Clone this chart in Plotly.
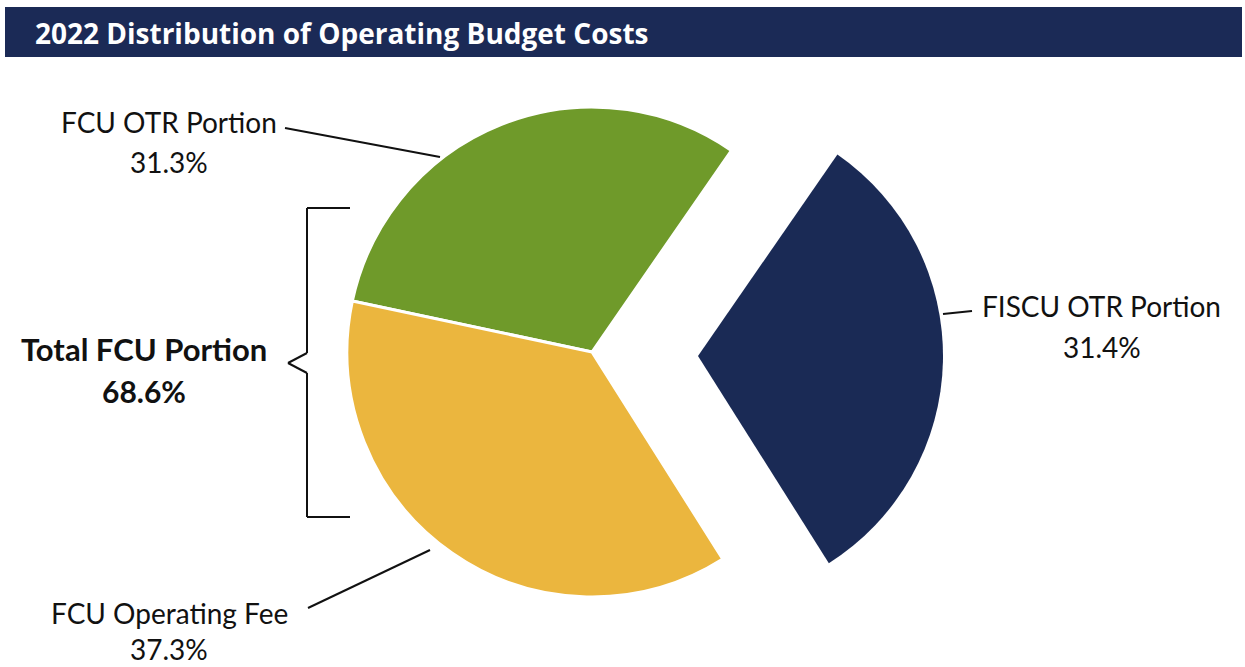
import plotly.graph_objects as go

# ---- data ----
categories = ["FCU OTR Portion", "FISCU OTR Portion", "FCU Operating Fee"]
shares = [31.3, 31.4, 37.3]
pct_labels = ["31.3%", "31.4%", "37.3%"]
total_label = "Total FCU Portion"
total_pct = "68.6%"
title_text = "2022 Distribution of Operating Budget Costs"

# ---- style ----
W, H = 1245, 667
GREEN = "#6f9a2a"
NAVY = "#1a2a55"
YELLOW = "#ebb63e"
BAR = "#1b2a56"
FONT = "Lato"
TITLE_FONT = "Open Sans"


def px(x):
    return x / W


def py(y):
    return 1 - y / H


R = 245
C1 = (592, 352)   # green + yellow centre
C2 = (698, 356)   # exploded navy slice centre


def dom(c):
    return dict(x=[px(c[0] - R), px(c[0] + R)], y=[py(c[1] + R), py(c[1] - R)])


fig = go.Figure()
fig.add_trace(go.Pie(
    labels=categories, values=shares, sort=False, direction="clockwise",
    rotation=-78, domain=dom(C1), textinfo="none", hoverinfo="label+percent",
    marker=dict(colors=[GREEN, "rgba(0,0,0,0)", YELLOW],
                line=dict(color="white", width=[3, 0, 3])),
    showlegend=False,
))
fig.add_trace(go.Pie(
    labels=categories, values=shares, sort=False, direction="clockwise",
    rotation=-78, domain=dom(C2), textinfo="none", hoverinfo="skip",
    marker=dict(colors=["rgba(0,0,0,0)", NAVY, "rgba(0,0,0,0)"],
                line=dict(color="white", width=[0, 0, 0])),
    showlegend=False,
))

shapes = []
# title bar
shapes.append(dict(type="rect", xref="paper", yref="paper",
                   x0=px(5), x1=px(1242), y0=py(57), y1=py(7),
                   fillcolor=BAR, line=dict(width=0), layer="below"))


def seg(x0, y0, x1, y1, w=2):
    shapes.append(dict(type="line", xref="paper", yref="paper",
                       x0=px(x0), y0=py(y0), x1=px(x1), y1=py(y1),
                       line=dict(color="#111111", width=w)))


# leader lines
seg(285, 128, 440, 157)
seg(308, 608, 430, 550)
seg(943, 314, 972, 311)
# bracket
seg(307, 208, 350, 208)
seg(307, 517, 350, 517)
seg(307, 208, 307, 353)
seg(307, 373, 307, 517)
seg(307, 353, 288, 363)
seg(288, 363, 307, 373)
fig.update_layout(shapes=shapes)

ann = []


def text(x, y, s, size=28, bold=False, color="#111111", xanchor="center", family=FONT):
    ann.append(dict(x=px(x), y=py(y), xref="paper", yref="paper", text=s,
                    showarrow=False, xanchor=xanchor, yanchor="middle",
                    font=dict(family=family, size=size, color=color,
                              weight="bold" if bold else "normal")))


text(33, 33, title_text, size=28, bold=True, color="white", xanchor="left",
     family=TITLE_FONT)
text(169, 122, categories[0], size=28)
text(169, 162, pct_labels[0], size=28)
text(1101, 306, categories[1], size=28)
text(1102, 347, pct_labels[1], size=28)
text(169, 613, categories[2], size=28)
text(169, 649, pct_labels[2], size=28)
text(144, 349, total_label, size=31, bold=True)
text(144, 391, total_pct, size=30, bold=True)
fig.update_layout(annotations=ann)

fig.update_layout(width=W, height=H, margin=dict(l=0, r=0, t=0, b=0),
                  paper_bgcolor="white", plot_bgcolor="white", showlegend=False)
fig.write_html("out.html")
